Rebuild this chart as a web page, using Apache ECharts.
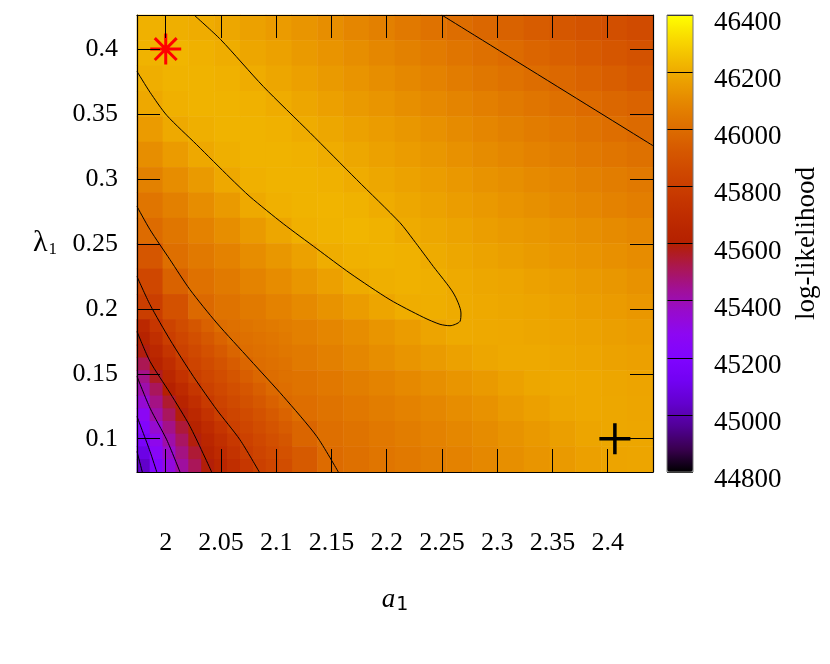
<!DOCTYPE html>
<html>
<head>
<meta charset="utf-8">
<script src="https://cdn.jsdelivr.net/npm/echarts@6/dist/echarts.min.js"></script>
<style>
  html, body { margin: 0; background: #fff; }
  #chart { width: 830px; height: 664px; }
</style>
</head>
<body>
<div id="chart"></div>
<script>
// axis ranges and ticks
const aRange = [1.974, 2.441];
const lambdaRange = [0.0744, 0.4262];
const aTicks = [2, 2.05, 2.1, 2.15, 2.2, 2.25, 2.3, 2.35, 2.4];
const lambdaTicks = [0.1, 0.15, 0.2, 0.25, 0.3, 0.35, 0.4];
const llRange = [44800, 46400];

// grid cell centres (a: left->right, lambda: top->bottom)
const aCells = [1.9857, 2.0090, 2.0324, 2.0557, 2.0791, 2.1024, 2.1258, 2.1491, 2.1725, 2.1958,
                2.2192, 2.2425, 2.2659, 2.2892, 2.3126, 2.3359, 2.3593, 2.3826, 2.4060, 2.4293];
const lambdaCells = [0.4164, 0.3968, 0.3773, 0.3578, 0.3382, 0.3187, 0.2991, 0.2796, 0.2601,
                     0.2405, 0.2210, 0.2014, 0.1819, 0.1624, 0.1428, 0.1233, 0.1037, 0.0842];

// log-likelihood, one row per lambdaCells entry
const logLik = [
  [46215, 46210, 46202, 46188, 46172, 46155, 46135, 46113, 46090, 46068, 46045, 46022, 46002, 45980, 45960, 45940, 45920, 45900, 45880, 45862],
  [46222, 46225, 46215, 46203, 46186, 46170, 46152, 46133, 46113, 46093, 46072, 46052, 46033, 46013, 45995, 45975, 45955, 45935, 45915, 45895],
  [46208, 46220, 46222, 46215, 46202, 46185, 46168, 46150, 46132, 46113, 46094, 46075, 46057, 46038, 46020, 46004, 45985, 45965, 45945, 45925],
  [46190, 46212, 46220, 46222, 46215, 46202, 46185, 46168, 46151, 46134, 46116, 46099, 46082, 46065, 46049, 46032, 46015, 45998, 45982, 45965],
  [46155, 46192, 46210, 46220, 46222, 46215, 46202, 46188, 46172, 46156, 46140, 46122, 46105, 46088, 46072, 46056, 46040, 46024, 46008, 45993],
  [46115, 46155, 46190, 46210, 46220, 46222, 46215, 46201, 46187, 46172, 46156, 46140, 46124, 46108, 46093, 46077, 46062, 46046, 46031, 46016],
  [46072, 46110, 46150, 46190, 46212, 46222, 46222, 46214, 46201, 46188, 46174, 46160, 46145, 46130, 46116, 46102, 46088, 46074, 46060, 46046],
  [46030, 46070, 46110, 46150, 46192, 46212, 46222, 46224, 46218, 46200, 46188, 46175, 46161, 46147, 46133, 46119, 46105, 46091, 46077, 46063],
  [45997, 46036, 46075, 46113, 46150, 46185, 46212, 46222, 46225, 46218, 46199, 46188, 46176, 46164, 46152, 46140, 46128, 46116, 46104, 46091],
  [45915, 46012, 46045, 46078, 46110, 46142, 46172, 46204, 46215, 46220, 46214, 46198, 46187, 46176, 46165, 46154, 46143, 46132, 46121, 46109],
  [45846, 45960, 46019, 46049, 46079, 46109, 46139, 46169, 46199, 46210, 46215, 46210, 46196, 46188, 46181, 46172, 46162, 46152, 46140, 46127],
  [45795, 45892, 45990, 46024, 46050, 46077, 46103, 46130, 46156, 46183, 46203, 46208, 46199, 46193, 46187, 46181, 46173, 46164, 46155, 46143],
  [45687, 45832, 45920, 46003, 46024, 46046, 46068, 46090, 46112, 46134, 46156, 46180, 46195, 46194, 46191, 46186, 46180, 46173, 46165, 46156],
  [45605, 45764, 45859, 45936, 46004, 46026, 46048, 46070, 46092, 46113, 46134, 46153, 46170, 46185, 46193, 46192, 46188, 46182, 46175, 46167],
  [45482, 45668, 45808, 45879, 45950, 46005, 46024, 46043, 46062, 46080, 46098, 46116, 46134, 46151, 46172, 46188, 46192, 46190, 46185, 46178],
  [45390, 45573, 45720, 45829, 45895, 45962, 46007, 46025, 46042, 46059, 46076, 46093, 46110, 46127, 46150, 46168, 46185, 46190, 46188, 46183],
  [45261, 45478, 45636, 45759, 45844, 45909, 45974, 46010, 46026, 46042, 46058, 46075, 46091, 46107, 46130, 46147, 46165, 46182, 46188, 46185],
  [45155, 45402, 45570, 45692, 45802, 45868, 45933, 45998, 46015, 46030, 46046, 46062, 46078, 46094, 46117, 46134, 46152, 46168, 46180, 46182]
];

// finer reading of the steep lower-left corner (a 1.974-2.1141, lambda 0.0744-0.1917)
const aFine = [1.9799, 1.9916, 2.0032, 2.0149, 2.0266, 2.0383, 2.0499, 2.0616, 2.0733, 2.0849, 2.0966, 2.1083];
const lambdaFine = [0.1868, 0.1770, 0.1672, 0.1575, 0.1477, 0.1379, 0.1282, 0.1184, 0.1086, 0.0988, 0.0891, 0.0793];
const logLikFine = [
  [45665, 45756, 45823, 45868, 45913, 45959, 46003, 46015, 46027, 46038, 46049, 46060],
  [45621, 45708, 45796, 45840, 45882, 45923, 45966, 46003, 46014, 46025, 46036, 46047],
  [45585, 45665, 45746, 45813, 45853, 45893, 45932, 45972, 46004, 46015, 46026, 46037],
  [45516, 45625, 45701, 45778, 45827, 45864, 45902, 45940, 45977, 46004, 46015, 46026],
  [45454, 45567, 45654, 45730, 45803, 45839, 45875, 45911, 45946, 45982, 46005, 46016],
  [45407, 45507, 45606, 45680, 45755, 45814, 45848, 45883, 45917, 45952, 45987, 46007],
  [45347, 45460, 45552, 45635, 45706, 45778, 45824, 45857, 45891, 45924, 45958, 45992],
  [45276, 45416, 45503, 45591, 45661, 45730, 45798, 45832, 45865, 45898, 45932, 45965],
  [45222, 45355, 45456, 45542, 45620, 45685, 45749, 45807, 45840, 45873, 45906, 45938],
  [45159, 45296, 45413, 45500, 45587, 45650, 45709, 45768, 45815, 45848, 45881, 45914],
  [45090, 45250, 45369, 45462, 45546, 45621, 45678, 45736, 45792, 45828, 45861, 45894],
  [45034, 45211, 45324, 45427, 45509, 45592, 45649, 45704, 45759, 45809, 45842, 45875]
];

// contour lines, [a, lambda]
const contour46200 = [
  [2.0256, 0.4262], [2.0498, 0.4072], [2.0883, 0.3712], [2.1306, 0.3356], [2.1729, 0.2994],
  [2.2120, 0.2663], [2.2241, 0.2532], [2.2422, 0.2326], [2.2603, 0.2122], [2.2672, 0.1968],
  [2.2663, 0.1903], [2.2573, 0.1870], [2.2482, 0.1881], [2.2331, 0.1935], [2.2030, 0.2070],
  [2.1668, 0.2274], [2.1367, 0.2463], [2.1064, 0.2655], [2.0763, 0.2863], [2.0582, 0.3009],
  [2.0281, 0.3263], [2.0009, 0.3490], [1.9858, 0.3667], [1.9740, 0.3828]
];
const contour46000a = [[2.2498, 0.4262], [2.4410, 0.3256]];
const contour46000b = [
  [1.9740, 0.2788], [1.9858, 0.2609], [2.0039, 0.2378], [2.0220, 0.2147], [2.0462, 0.1891],
  [2.0763, 0.1608], [2.1064, 0.1326], [2.1367, 0.1018], [2.1562, 0.0744]
];
const contour45800 = [
  [1.9740, 0.2249], [1.9858, 0.2032], [2.0039, 0.1762], [2.0250, 0.1480], [2.0462, 0.1223],
  [2.0672, 0.0992], [2.0847, 0.0744]
];
const contour45600 = [[1.9740, 0.1826], [1.9858, 0.1595], [2.0039, 0.1352], [2.0220, 0.1095], [2.0416, 0.0744]];
const contour45400 = [[1.9740, 0.1480], [1.9858, 0.1236], [2.0009, 0.0992], [2.0129, 0.0744]];
const contour45200 = [[1.9740, 0.1172], [1.9858, 0.0902], [1.9919, 0.0744]];
const contour45000 = [[1.9740, 0.0902], [1.9788, 0.0744]];

const startPoint = [2, 0.4];
const truePoint = [2.4065, 0.1];

// gnuplot default palette (rgbformulae 7,5,15)
const palette = ['#000000', '#39004f', '#510096', '#6301ce', '#7202f3', '#8004ff', '#8c07f3',
  '#970bce', '#a11096', '#ab174f', '#b42000', '#bd2a00', '#c63700', '#ce4600', '#d55700',
  '#dd6c00', '#e48300', '#eb9d00', '#f2ba00', '#f9db00', '#ffff00'];

const font = "'Liberation Serif', 'DejaVu Serif', serif";

const toCells = (rows) => {
  const out = [];
  rows.forEach((row, i) => {
    row.forEach((v, j) => out.push([j, rows.length - 1 - i, v]));
  });
  return out;
};

const chart = echarts.init(document.getElementById('chart'));

const frameAxis = {
  axisLine: { show: true, onZero: false, lineStyle: { color: '#000', width: 1.2 } },
  splitLine: { show: false },
  z: 10
};

const contourSeries = (data) => ({
  type: 'line',
  xAxisIndex: 0,
  yAxisIndex: 0,
  data: data,
  symbol: 'none',
  smooth: 0.25,
  lineStyle: { color: '#000', width: 1 },
  silent: true,
  z: 3
});

const plotH = 457, plotW = 516;

const option = {
  animation: false,
  textStyle: { fontFamily: font },
  grid: [
    { left: 137, right: 177, top: 15, bottom: 192 },
    { left: 667, top: 15, width: 26, height: 457 },
    { left: 137, top: 15 + plotH * 12 / 18, width: plotW * 6 / 20, height: plotH * 6 / 18 }
  ],
  xAxis: [
    Object.assign({
      type: 'value', gridIndex: 0, position: 'bottom',
      min: aRange[0], max: aRange[1],
      axisTick: { inside: true, length: 23, customValues: aTicks, lineStyle: { color: '#000' } },
      axisLabel: { customValues: aTicks, margin: 58, fontSize: 26, color: '#000', fontFamily: font },
      name: '{i|a}{s|1}', nameLocation: 'middle', nameGap: 112,
      nameTextStyle: {
        rich: {
          i: { fontSize: 27, fontStyle: 'italic', fontFamily: font, color: '#000' },
          s: { fontSize: 19, fontFamily: 'DejaVu Sans', color: '#000', padding: [12, 0, 0, 1] }
        }
      }
    }, frameAxis),
    Object.assign({
      type: 'value', gridIndex: 0, position: 'top',
      min: aRange[0], max: aRange[1],
      axisTick: { inside: true, length: 23, customValues: aTicks, lineStyle: { color: '#000' } },
      axisLabel: { show: false }
    }, frameAxis),
    { type: 'category', gridIndex: 0, data: aCells, show: false },
    { type: 'value', gridIndex: 1, show: false, min: 0, max: 1 },
    { type: 'category', gridIndex: 2, data: aFine, show: false }
  ],
  yAxis: [
    Object.assign({
      type: 'value', gridIndex: 0, position: 'left',
      min: lambdaRange[0], max: lambdaRange[1],
      axisTick: { inside: true, length: 23, customValues: lambdaTicks, lineStyle: { color: '#000' } },
      axisLabel: { customValues: lambdaTicks, margin: 19, fontSize: 26, color: '#000', fontFamily: font },
      name: '{l|λ}{s|1}', nameLocation: 'middle', nameRotate: 0, nameGap: 80,
      nameTextStyle: {
        rich: {
          l: { fontSize: 30, fontFamily: font, color: '#000' },
          s: { fontSize: 17, fontFamily: font, color: '#000', padding: [12, 0, 0, 1] }
        }
      }
    }, frameAxis),
    Object.assign({
      type: 'value', gridIndex: 0, position: 'right',
      min: lambdaRange[0], max: lambdaRange[1],
      axisTick: { inside: true, length: 23, customValues: lambdaTicks, lineStyle: { color: '#000' } },
      axisLabel: { show: false }
    }, frameAxis),
    { type: 'category', gridIndex: 0, data: lambdaCells.slice().reverse(), show: false },
    {
      type: 'value', gridIndex: 1, position: 'right',
      min: llRange[0], max: llRange[1], interval: 200,
      axisLine: { show: false },
      axisTick: { show: false },
      splitLine: { show: true, lineStyle: { color: '#000', width: 1 } },
      axisLabel: {
        margin: 21, fontSize: 27, color: '#000', fontFamily: font,
        verticalAlign: 'top', lineHeight: 16,
        formatter: (v) => String(v)
      },
      name: 'log-likelihood', nameLocation: 'middle', nameRotate: 90, nameGap: 100,
      nameTextStyle: { fontSize: 27, fontFamily: font, color: '#000' },
      z: 10
    },
    { type: 'category', gridIndex: 2, data: lambdaFine.slice().reverse(), show: false }
  ],
  visualMap: {
    type: 'continuous',
    seriesIndex: [0, 1],
    dimension: 2,
    min: llRange[0],
    max: llRange[1],
    calculable: false,
    left: 667,
    top: 15,
    padding: 0,
    itemWidth: 26,
    itemHeight: 457,
    inRange: { color: palette }
  },
  graphic: [{
    type: 'rect', z: 20, silent: true,
    shape: { x: 667, y: 15, width: 26, height: 457 },
    style: { fill: 'none', stroke: '#777', lineWidth: 1 }
  }],
  series: [
    {
      type: 'heatmap',
      xAxisIndex: 2,
      yAxisIndex: 2,
      data: toCells(logLik),
      itemStyle: { borderWidth: 0 },
      emphasis: { disabled: true },
      silent: true,
      z: 1
    },
    {
      type: 'heatmap',
      xAxisIndex: 4,
      yAxisIndex: 4,
      data: toCells(logLikFine),
      itemStyle: { borderWidth: 0 },
      emphasis: { disabled: true },
      silent: true,
      z: 2
    },
    contourSeries(contour46200),
    contourSeries(contour46000a),
    contourSeries(contour46000b),
    contourSeries(contour45800),
    contourSeries(contour45600),
    contourSeries(contour45400),
    contourSeries(contour45200),
    contourSeries(contour45000),
    {
      type: 'scatter', xAxisIndex: 0, yAxisIndex: 0,
      data: [startPoint],
      symbol: 'path://M16 0L16 32M0 16L32 16M4.7 4.7L27.3 27.3M27.3 4.7L4.7 27.3',
      symbolSize: 31,
      itemStyle: { color: 'transparent', borderColor: '#ff0000', borderWidth: 3, opacity: 1 },
      silent: true, z: 5
    },
    {
      type: 'scatter', xAxisIndex: 0, yAxisIndex: 0,
      data: [truePoint],
      symbol: 'path://M16 0L16 32M0 16L32 16',
      symbolSize: 31,
      itemStyle: { color: 'transparent', borderColor: '#000', borderWidth: 3.5, opacity: 1 },
      silent: true, z: 5
    }
  ]
};

chart.setOption(option);
</script>
</body>
</html>
